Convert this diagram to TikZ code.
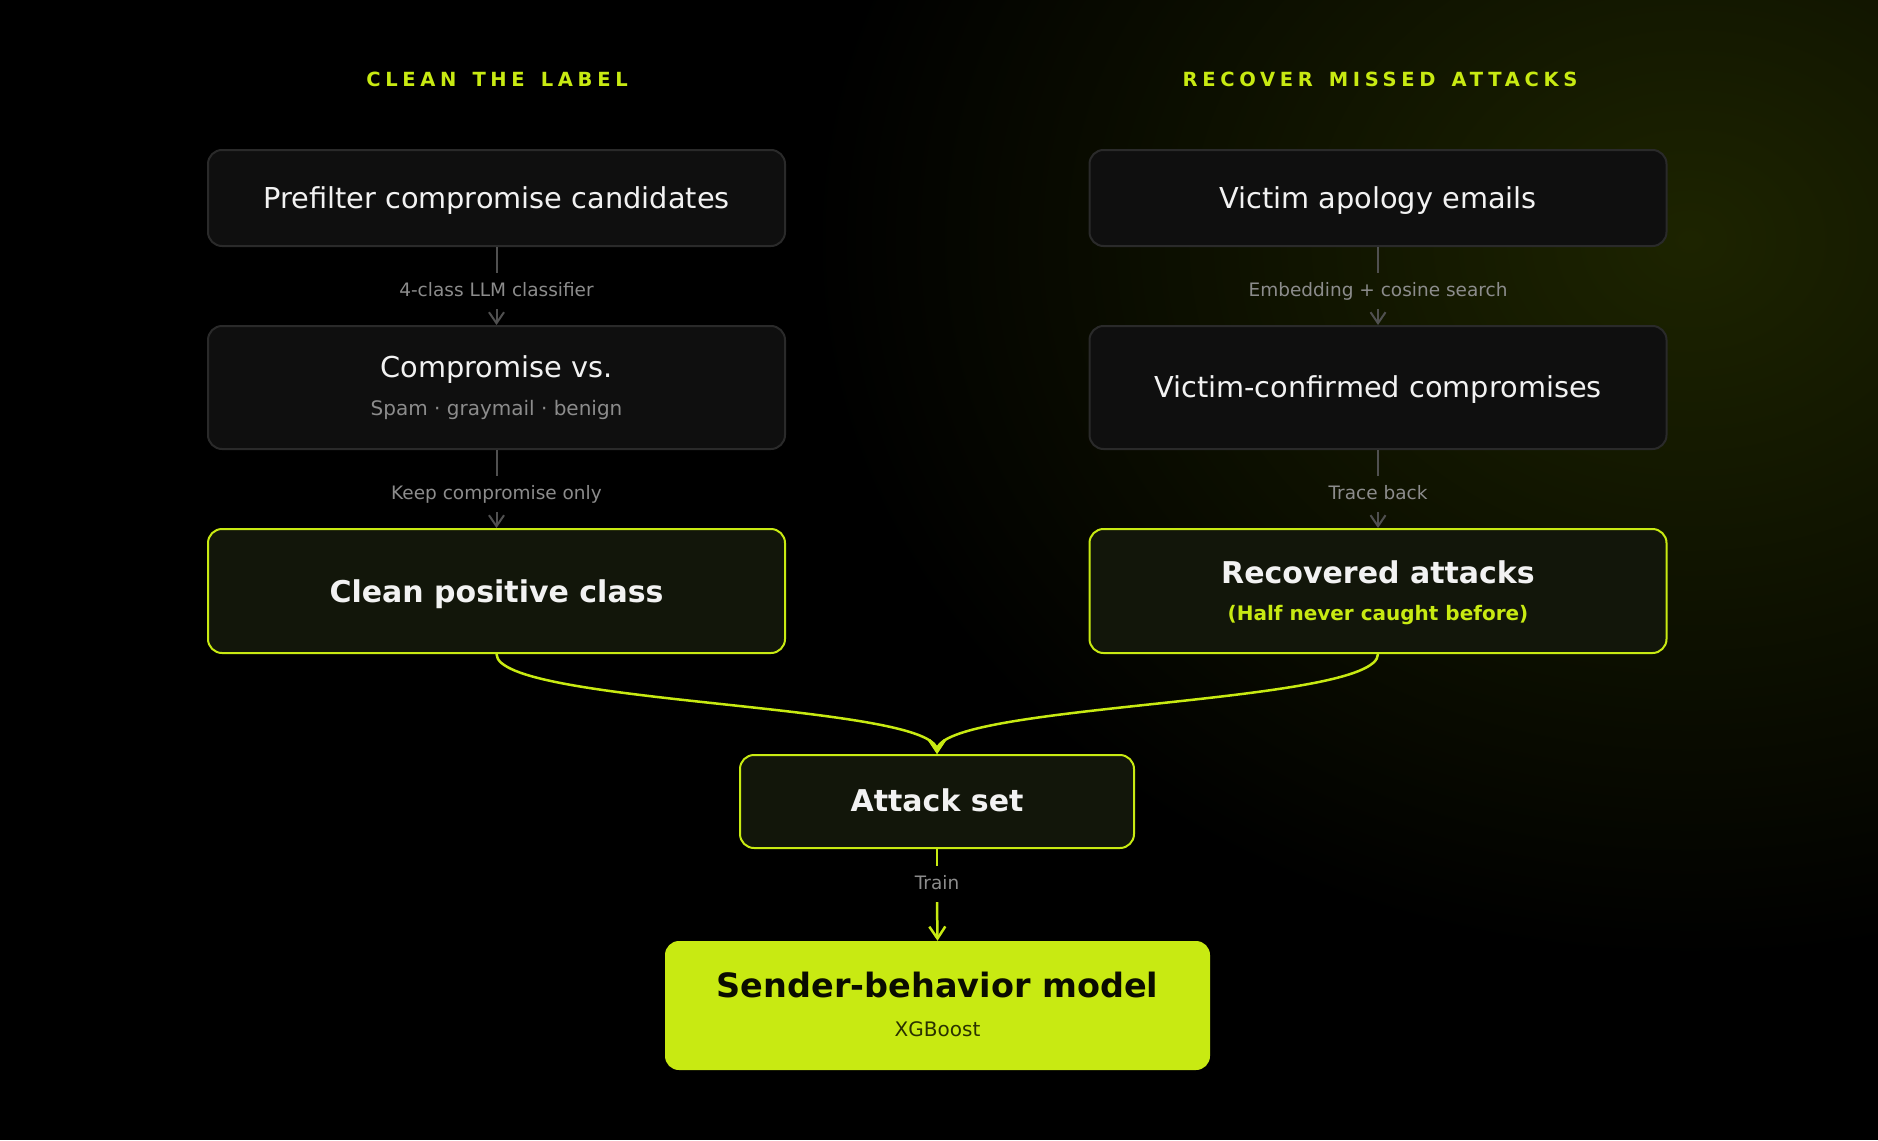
\documentclass[tikz,border=0pt]{standalone}
\usepackage{fontspec}
\setmainfont{DejaVu Sans}
\newfontfamily\titlefont{DejaVu Sans}[LetterSpace=24,WordSpace=1.4]
\usetikzlibrary{arrows.meta}
\definecolor{lime}{HTML}{C8EA12}
\definecolor{boxfill}{HTML}{0F0F0F}
\definecolor{boxline}{HTML}{2A2A2A}
\definecolor{hifill}{HTML}{12160A}
\definecolor{lblgray}{HTML}{8C8C8C}
\definecolor{conngray}{HTML}{505050}
\definecolor{glow}{HTML}{1D2400}
\definecolor{maintext}{HTML}{F2F2F2}
\definecolor{darktext}{HTML}{0A0C00}
\definecolor{darksub}{HTML}{2A3200}
\tikzset{
  box/.style={draw=boxline, fill=boxfill, line width=2pt, rounded corners=14pt, inner sep=0pt},
  hibox/.style={box, draw=lime, fill=hifill},
  finalbox/.style={fill=lime, rounded corners=14pt, inner sep=0pt},
  maintxt/.style={text=maintext, font=\fontsize{28.8pt}{34pt}\selectfont, inner sep=0pt},
  boldtxt/.style={text=maintext, font=\fontsize{30pt}{36pt}\selectfont\bfseries, inner sep=0pt},
  subtxt/.style={text=lblgray, font=\fontsize{20pt}{24pt}\selectfont, inner sep=0pt},
  edgelbl/.style={text=lblgray, font=\fontsize{18.5pt}{22pt}\selectfont, inner xsep=4pt, inner ysep=10pt, text height=13pt, text depth=3pt},
  coltitle/.style={text=lime, font=\titlefont\fontsize{19.5pt}{24pt}\selectfont\bfseries},
  connline/.style={draw=conngray, line width=2pt},
  connarrow/.style={connline, -{Straight Barb[length=11pt,width=15pt]}},
  limeline/.style={draw=lime, line width=2.5pt},
  limearrow/.style={limeline, -{Straight Barb[length=12pt,width=16pt]}},
}
\begin{document}
\begin{tikzpicture}[x=1pt,y=-1pt]
\fill[black] (0,0) rectangle (1878,1140);
\useasboundingbox (0,0) rectangle (1878,1140);
\begin{scope}
\clip (0,0) rectangle (1878,1140);
\shade[inner color=glow, outer color=black] (1690,240) ellipse [x radius=880, y radius=720];
\end{scope}

% column titles
\node[coltitle] (t1) at (497,79) {CLEAN THE LABEL};
\node[coltitle] (t2) at (1380,79) {RECOVER MISSED ATTACKS};

% left column
\node[box, minimum width=577pt, minimum height=96pt] (l1) at (496.5,198) {};
\node[maintxt] (l1t) at (496.5,200.5) {Prefilter compromise candidates};
\node[box, minimum width=577pt, minimum height=123pt] (l2) at (496.5,387.5) {};
\node[maintxt] (l2t) at (496.5,370) {Compromise vs.};
\node[subtxt] (l2s) at (496.5,410) {Spam · graymail · benign};
\node[hibox, minimum width=577pt, minimum height=124pt] (l3) at (496.5,591) {};
\node[boldtxt] (l3t) at (496.5,594.5) {Clean positive class};

% right column
\node[box, minimum width=577pt, minimum height=96pt] (r1) at (1378,198) {};
\node[maintxt] (r1t) at (1378,200.5) {Victim apology emails};
\node[box, minimum width=577pt, minimum height=123pt] (r2) at (1378,387.5) {};
\node[maintxt] (r2t) at (1378,389.5) {Victim-confirmed compromises};
\node[hibox, minimum width=577pt, minimum height=124pt] (r3) at (1378,591) {};
\node[boldtxt] (r3t) at (1378,572.5) {Recovered attacks};
\node[subtxt, text=lime, font=\fontsize{20pt}{24pt}\selectfont\bfseries] (r3s) at (1378,615) {(Half never caught before)};

% merge
\node[hibox, minimum width=394pt, minimum height=93pt] (att) at (937,801.5) {};
\node[boldtxt] (attt) at (937,800.5) {Attack set};
\node[finalbox, minimum width=545pt, minimum height=129pt] (fin) at (937.5,1005.5) {};
\node[text=darktext, font=\fontsize{33.5pt}{40pt}\selectfont\bfseries, inner sep=0pt] (fint) at (937.5,984.5) {Sender-behavior model};
\node[subtxt, text=darksub] (fins) at (937.5,1029) {XGBoost};

% edge labels
\node[edgelbl] (e1) at (496.5,291) {4-class LLM classifier};
\node[edgelbl] (e2) at (496.5,494) {Keep compromise only};
\node[edgelbl] (e3) at (1378,291) {Embedding + cosine search};
\node[edgelbl] (e4) at (1378,494) {Trace back};
\node[edgelbl] (e5) at (937,884) {Train};

% connectors
\draw[connline] (l1.south) -- (e1.north);
\draw[connarrow] (e1.south) -- (l2.north);
\draw[connline] (l2.south) -- (e2.north);
\draw[connarrow] (e2.south) -- (l3.north);
\draw[connline] (r1.south) -- (e3.north);
\draw[connarrow] (e3.south) -- (r2.north);
\draw[connline] (r2.south) -- (e4.north);
\draw[connarrow] (e4.south) -- (r3.north);

\draw[limearrow] (l3.south) .. controls +(0,51) and +(0,-51) .. (att.north);
\draw[limearrow] (r3.south) .. controls +(0,51) and +(0,-51) .. (att.north);
\draw[limeline] (att.south) -- (e5.north);
\draw[limearrow] (e5.south) -- (fin.north);
\end{tikzpicture}
\end{document}
